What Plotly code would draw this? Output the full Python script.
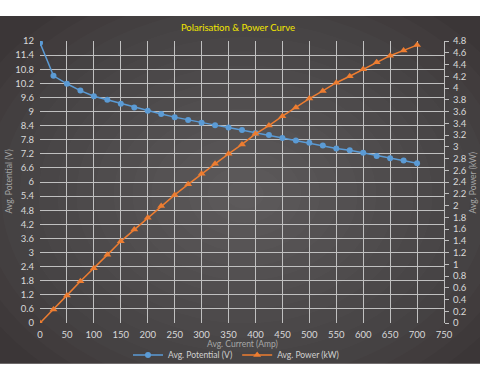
import plotly.graph_objects as go

current = [0, 25, 50, 75, 100, 125, 150, 175, 200, 225, 250, 275, 300, 325, 350,
           375, 400, 425, 450, 475, 500, 525, 550, 575, 600, 625, 650, 675, 700]
potential = [11.92, 10.52, 10.18, 9.89, 9.65, 9.50, 9.33, 9.17, 9.03, 8.89, 8.76, 8.64,
             8.52, 8.42, 8.32, 8.21, 8.08, 8.00, 7.87, 7.77, 7.67, 7.55, 7.43, 7.35,
             7.24, 7.11, 7.01, 6.91, 6.80]
power = [0.0, 0.23, 0.47, 0.71, 0.93, 1.16, 1.39, 1.59, 1.79, 1.99, 2.18, 2.36,
         2.54, 2.71, 2.88, 3.04, 3.22, 3.36, 3.52, 3.67, 3.82, 3.95, 4.09, 4.20,
         4.32, 4.44, 4.55, 4.64, 4.73]

left_ticks = [round(0.6 * i, 1) for i in range(21)]
right_ticks = [round(0.2 * i, 1) for i in range(25)]
x_ticks = list(range(0, 751, 50))

W, H = 480, 380
L, R, T, B = 40, 36, 41, 56
pw, ph = W - L - R, H - T - B

def px_x(p):
    return (p - L) / pw

def px_y(p):
    return (H - B - p) / ph

FONT = "Lato, Open Sans, sans-serif"
TICK_C = "#d9d9d9"
TITLE_C = "#a6a6a6"
GRID_C = "#c0c0c0"

fig = go.Figure()
fig.add_trace(go.Scatter(
    x=current, y=potential, name="Avg. Potential (V)", mode="lines+markers",
    line=dict(color="#5b9bd5", width=1.5),
    marker=dict(symbol="circle", size=6, color="#5b9bd5")))
fig.add_trace(go.Scatter(
    x=current, y=power, name="Avg. Power (kW)", mode="lines+markers", yaxis="y2",
    line=dict(color="#ed7d31", width=1.5),
    marker=dict(symbol="triangle-up", size=7, color="#ed7d31")))

shapes = []
shapes.append(dict(type="rect", xref="paper", yref="paper", layer="below",
                   x0=px_x(0), x1=px_x(480), y0=px_y(365), y1=px_y(16),
                   fillcolor="#3b3637", line=dict(width=0)))
cx, cy = 245, 195
N = 16
for i in range(N):
    f = 1 - i / N
    rx, ry = 300 * f, 230 * f
    shapes.append(dict(type="circle", xref="paper", yref="paper", layer="below",
                       x0=px_x(cx - rx), x1=px_x(cx + rx),
                       y0=px_y(cy + ry), y1=px_y(cy - ry),
                       fillcolor="rgba(255,255,255,0.015)", line=dict(width=0)))

annotations = [
    dict(text="Avg. Potential (V)", xref="paper", yref="paper", x=px_x(9), y=px_y(182),
         textangle=-90, showarrow=False, xanchor="center", yanchor="middle",
         font=dict(family=FONT, size=8.5, color=TITLE_C)),
    dict(text="Avg. Power (kW)", xref="paper", yref="paper", x=px_x(473), y=px_y(183),
         textangle=-90, showarrow=False, xanchor="center", yanchor="middle",
         font=dict(family=FONT, size=8.5, color=TITLE_C)),
    dict(text="Avg. Current (Amp)", xref="paper", yref="paper", x=px_x(242), y=px_y(345),
         showarrow=False, xanchor="center", yanchor="middle",
         font=dict(family=FONT, size=8.5, color=TITLE_C)),
]

fig.update_layout(
    width=W, height=H,
    margin=dict(l=L, r=R, t=T, b=B),
    paper_bgcolor="white",
    plot_bgcolor="rgba(0,0,0,0)",
    font=dict(family=FONT, size=9, color=TICK_C),
    shapes=shapes,
    annotations=annotations,
    title=dict(text="Polarisation & Power Curve", x=px_x(238), xanchor="center",
               xref="paper", y=1 - 28 / H, yanchor="middle",
               font=dict(family=FONT, size=9.5, color="#f2e600")),
    xaxis=dict(range=[0, 750], tickvals=x_ticks, showgrid=True, gridcolor=GRID_C,
               gridwidth=1.2, zeroline=False, showline=False, ticks="",
               automargin=False, ticklabelstandoff=4,
               tickfont=dict(size=9.5, color=TICK_C)),
    yaxis=dict(range=[0, 12], tickvals=left_ticks, showgrid=True, gridcolor=GRID_C,
               gridwidth=1.2, zeroline=False, showline=False, ticks="",
               automargin=False, ticklabelstandoff=5,
               tickfont=dict(size=9.5, color=TICK_C)),
    yaxis2=dict(range=[0, 4.8], tickvals=right_ticks, overlaying="y", side="right",
                showgrid=False, zeroline=False, showline=True, linecolor=GRID_C,
                linewidth=1.2, ticks="outside", ticklen=4, tickcolor=GRID_C,
                automargin=False, ticklabelstandoff=2,
                tickfont=dict(size=9.5, color=TICK_C)),
    legend=dict(orientation="h", x=px_x(236), xanchor="center", y=px_y(355),
                yanchor="middle", bgcolor="rgba(0,0,0,0)",
                font=dict(size=8.5, color="#d0d0d0"), itemwidth=30,
                traceorder="normal"),
    showlegend=True,
)

fig.write_html("out.html", config={"displayModeBar": False},
               post_script="document.body.style.margin='0';document.body.style.overflow='hidden';")
